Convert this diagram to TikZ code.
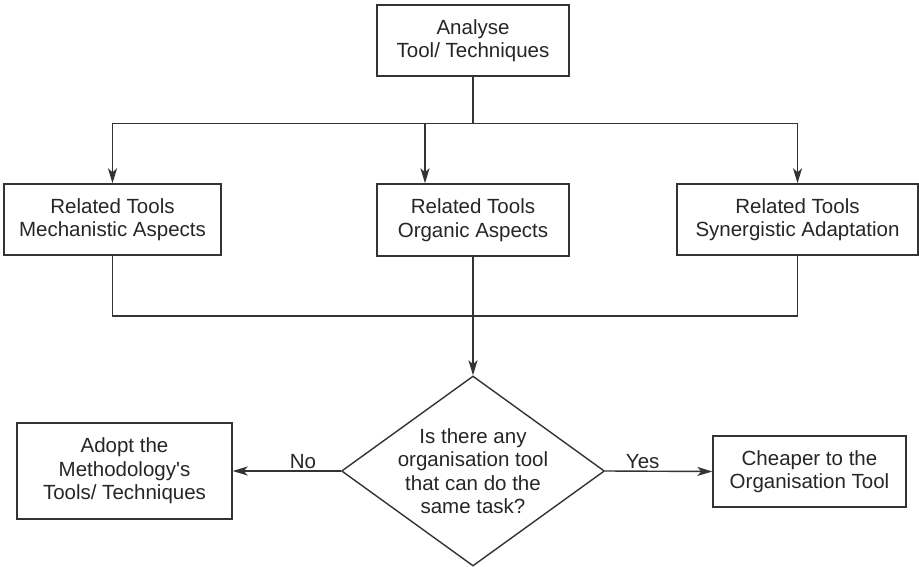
\documentclass[tikz,border=0pt]{standalone}
\usepackage{fontspec}
\setmainfont{Liberation Sans}
\usetikzlibrary{shapes.geometric,arrows.meta}

\begin{document}
\begin{tikzpicture}[x=1pt,y=-1pt,
  font=\fontsize{20.5}{23.5}\selectfont, text=black!85,
  box/.style={draw=black!80,line width=1.4pt,align=center,inner sep=0pt},
  query/.style={diamond,draw=black!80,line width=1.4pt,inner sep=0pt,aspect=1.384,
    minimum width=263pt,minimum height=190pt},
  link/.style={draw=black!80,line width=1.4pt},
  arrow/.style={link,-{Stealth[length=15pt,width=9pt,inset=4pt]}}]
  \useasboundingbox[fill=white] (0,0) rectangle (919,567);

  % top box and the three tool groups
  \node[box,minimum width=192pt,minimum height=71pt] (ana) at (473,40.5) {Analyse\\Tool/ Techniques};
  \node[box,minimum width=217pt,minimum height=71pt] (mech) at (112.5,219.5) {Related Tools\\Mechanistic Aspects};
  \node[box,minimum width=192pt,minimum height=72pt] (org) at (473,220) {Related Tools\\Organic Aspects};
  \node[box,minimum width=241pt,minimum height=71pt] (syn) at (797.5,219.5) {Related Tools\\Synergistic Adaptation};

  % decision and its two outcomes
  \node[query] (qry) at (473,471) {};
  \node[align=center] (qrytext) at (qry) {Is there any\\organisation tool\\that can do the\\same task?};
  \node[box,minimum width=215pt,minimum height=96pt] (adopt) at (124.5,471) {Adopt the\\Methodology\textquotesingle s\\Tools/ Techniques};
  \node[box,minimum width=193pt,minimum height=71pt] (cheap) at (809.5,471.5) {Cheaper to the\\Organisation Tool};

  \draw[link] (ana.south) -- ++(0,47) coordinate (fork);
  \draw[arrow] (fork) -| (mech.north);
  \draw[arrow] (fork) -| (syn.north);
  \coordinate (orgin) at (425,123);
  \draw[arrow] (orgin) -- (orgin |- org.north);

  \coordinate (merge) at (473,316);
  \draw[link] (mech.south) |- (merge) -| (syn.south);
  \draw[arrow] (org.south) -- (qry.north);

  \draw[arrow] (qry.west) -- node[pos=0.35,above,inner sep=2pt] {No} (adopt.east);
  \draw[arrow] (qry.east) -- node[pos=0.35,above,inner sep=2pt] {Yes} (cheap.west);
\end{tikzpicture}
\end{document}
